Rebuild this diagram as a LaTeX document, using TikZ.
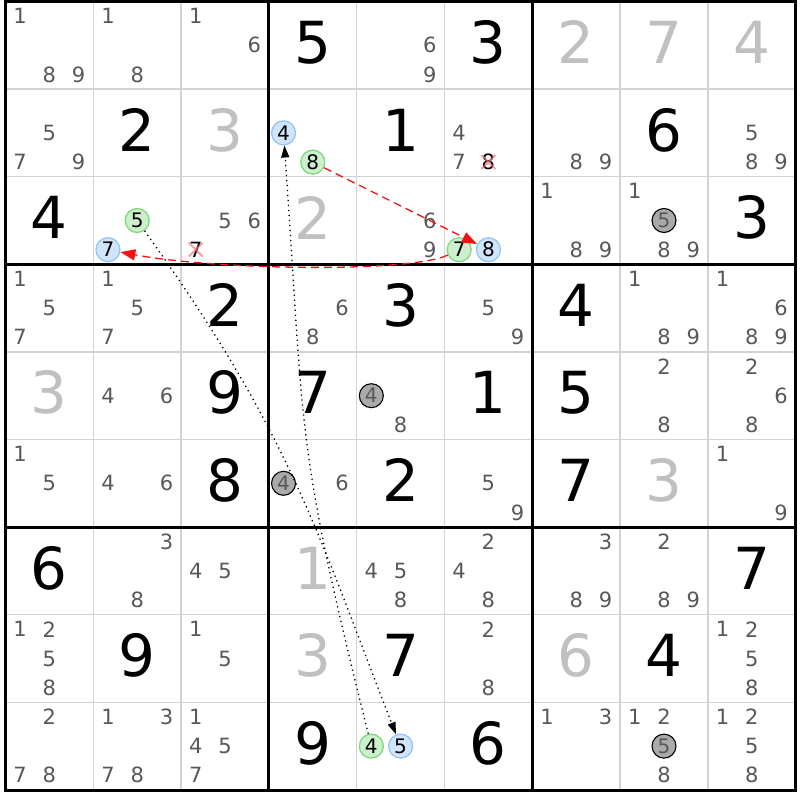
\documentclass[tikz,border=0pt]{standalone}
\usepackage{fontspec}
\setmainfont{DejaVu Sans}
\usetikzlibrary{arrows.meta}
\definecolor{candc}{RGB}{88,88,88}
\definecolor{givc}{RGB}{192,192,192}
\definecolor{thinc}{RGB}{211,211,211}
\definecolor{bluefill}{RGB}{208,228,250}
\definecolor{blueline}{RGB}{150,196,245}
\definecolor{greenfill}{RGB}{204,240,204}
\definecolor{greenline}{RGB}{130,215,130}
\definecolor{grayfill}{RGB}{170,170,170}
\definecolor{arrowred}{RGB}{240,20,20}
\definecolor{xred}{RGB}{250,110,120}
\begin{document}
\begin{tikzpicture}[x=1pt,y=-1pt,
  thinline/.style={draw=thinc,line width=1.5},
  thickline/.style={draw=black,line width=3},
  bigd/.style={inner sep=0,font=\fontsize{58}{58}\selectfont},
  cand/.style={inner sep=0,text=candc,font=\fontsize{21}{21}\selectfont},
  circbase/.style={circle,minimum size=24,inner sep=0,line width=1.3,font=\fontsize{20}{20}\selectfont},
  bluec/.style={circbase,draw=blueline,fill=bluefill,text=black},
  greenc/.style={circbase,draw=greenline,fill=greenfill,text=black},
  grayc/.style={circbase,draw=black,line width=1.1,fill=grayfill,text=candc},
  xmark/.style={draw=xred,line width=1.8,opacity=0.7},
  redarrow/.style={draw=arrowred,line width=1.3,dash pattern=on 8pt off 5pt,-{Triangle[length=15,width=11]},arrowred},
  blackarrow/.style={draw=black,line width=1.3,dash pattern=on 1.3pt off 3.7pt,-{Triangle[length=12,width=8]}}
]
\useasboundingbox (0,0) rectangle (800,800);
\fill[white] (0,0) rectangle (800,800);
% grid
\foreach \i in {1,2,4,5,7,8}{
  \draw[thinline] ({5.5+\i*87.8},1.5) -- ({5.5+\i*87.8},790.5);
  \draw[thinline] (5.5,{1.5+\i*87.6}) -- (795.7,{1.5+\i*87.6});
}
\foreach \i in {3,6}{
  \draw[thickline] ({5.5+\i*87.8},1.5) -- ({5.5+\i*87.8},790.5);
  \draw[thickline] (5.5,{1.5+\i*87.6}) -- (795.7,{1.5+\i*87.6});
}
\draw[thickline] (5.5,1.5) rectangle (795.7,790.5);
% big digits
\foreach \r/\c/\d/\k in {1/4/5/black,1/6/3/black,1/7/2/givc,1/8/7/givc,1/9/4/givc,
  2/2/2/black,2/3/3/givc,2/5/1/black,2/8/6/black,
  3/1/4/black,3/4/2/givc,3/9/3/black,
  4/3/2/black,4/5/3/black,4/7/4/black,
  5/1/3/givc,5/3/9/black,5/4/7/black,5/6/1/black,5/7/5/black,
  6/3/8/black,6/5/2/black,6/7/7/black,6/8/3/givc,
  7/1/6/black,7/4/1/givc,7/9/7/black,
  8/2/9/black,8/4/3/givc,8/5/7/black,8/7/6/givc,8/8/4/black,
  9/4/9/black,9/6/6/black}{
  \node[bigd,text=\k] (v\r\c) at ({5.5+(\c-0.5)*87.8},{1.5+(\r-0.5)*87.6-3}) {\d};
}
% candidates
\foreach \r/\c/\L in {1/1/{1,8,9},1/2/{1,8},1/3/{1,6},1/5/{6,9},
  2/1/{5,7,9},2/6/{4,7},2/7/{8,9},2/9/{5,8,9},
  3/3/{5,6},3/5/{6,9},3/7/{1,8,9},3/8/{1,8,9},
  4/1/{1,5,7},4/2/{1,5,7},4/4/{6,8},4/6/{5,9},4/8/{1,8,9},4/9/{1,6,8,9},
  5/2/{4,6},5/5/{8},5/8/{2,8},5/9/{2,6,8},
  6/1/{1,5},6/2/{4,6},6/4/{6},6/6/{5,9},6/9/{1,9},
  7/2/{3,8},7/3/{4,5},7/5/{4,5,8},7/6/{2,4,8},7/7/{3,8,9},7/8/{2,8,9},
  8/1/{1,2,5,8},8/3/{1,5},8/6/{2,8},8/9/{1,2,5,8},
  9/1/{2,7,8},9/2/{1,3,7,8},9/3/{1,4,5,7},9/7/{1,3},9/8/{1,2,8},9/9/{1,2,5,8}}{
  \foreach \d in \L {
    \pgfmathsetmacro\candx{5.5+(\c-1)*87.8+(mod(\d-1,3)+0.5)*29.267}
    \pgfmathsetmacro\candy{1.5+(\r-1)*87.6+(floor((\d-1)/3)+0.5)*29.2}
    \node[cand] (c\r\c\d) at (\candx,\candy) {\d};
  }
}
% crossed candidates
\foreach \r/\c/\d/\nm in {2/6/8/xa,3/3/7/xb}{
  \pgfmathsetmacro\candx{5.5+(\c-1)*87.8+(mod(\d-1,3)+0.5)*29.267}
  \pgfmathsetmacro\candy{1.5+(\r-1)*87.6+(floor((\d-1)/3)+0.5)*29.2}
  \node[cand,text=black] (\nm) at (\candx,\candy) {\d};
  \draw[xmark] (\nm.center) ++(-7,-7) -- ++(14,14) (\nm.center) ++(-7,7) -- ++(14,-14);
}
% circled candidates
\foreach \r/\c/\d/\nm in {2/4/4/b4,3/2/7/b7,3/6/8/b8,9/5/5/b5}{
  \pgfmathsetmacro\candx{5.5+(\c-1)*87.8+(mod(\d-1,3)+0.5)*29.267}
  \pgfmathsetmacro\candy{1.5+(\r-1)*87.6+(floor((\d-1)/3)+0.5)*29.2}
  \node[bluec] (\nm) at (\candx,\candy) {\d};
}
\foreach \r/\c/\d/\nm in {2/4/8/g8,3/2/5/g5,3/6/7/g7,9/5/4/g4}{
  \pgfmathsetmacro\candx{5.5+(\c-1)*87.8+(mod(\d-1,3)+0.5)*29.267}
  \pgfmathsetmacro\candy{1.5+(\r-1)*87.6+(floor((\d-1)/3)+0.5)*29.2}
  \node[greenc] (\nm) at (\candx,\candy) {\d};
}
\foreach \r/\c/\d/\nm in {3/8/5/k1,5/5/4/k2,6/4/4/k3,9/8/5/k4}{
  \pgfmathsetmacro\candx{5.5+(\c-1)*87.8+(mod(\d-1,3)+0.5)*29.267}
  \pgfmathsetmacro\candy{1.5+(\r-1)*87.6+(floor((\d-1)/3)+0.5)*29.2}
  \node[grayc] (\nm) at (\candx,\candy) {\d};
}
% links
\draw[redarrow] (g8) -- (b8);
\draw[redarrow] (g7) .. controls (410,273) and (215,270) .. (b7);
\draw[blackarrow] (g5) .. controls (291.5,435.7) and (316.8,531.7) .. (b5);
\draw[blackarrow] (g4) .. controls (294.8,439.7) and (304.8,438.7) .. (b4);
\end{tikzpicture}
\end{document}
